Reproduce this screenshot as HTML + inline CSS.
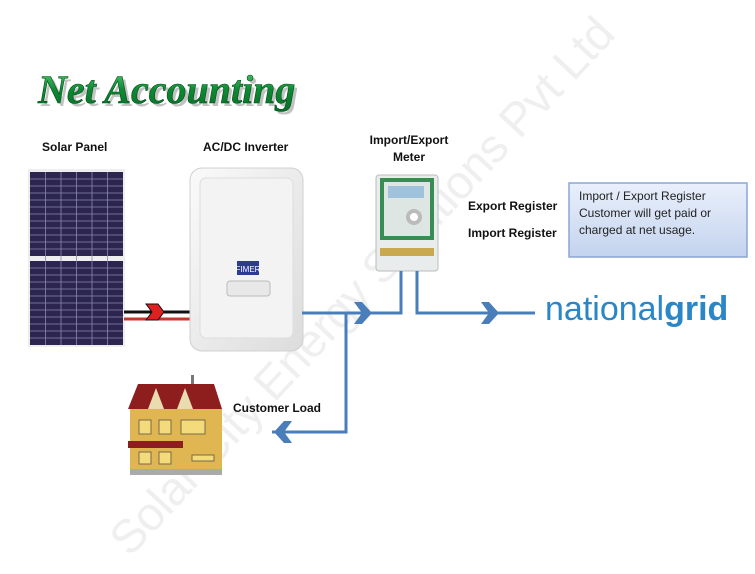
<!DOCTYPE html>
<html><head><meta charset="utf-8"><style>
html,body{margin:0;padding:0;background:#fff;}
body{width:755px;height:574px;overflow:hidden;position:relative;font-family:"Liberation Sans",sans-serif;}
</style></head><body>
<svg width="755" height="574" viewBox="0 0 755 574" xmlns="http://www.w3.org/2000/svg" style="position:absolute;left:0;top:0">
<defs>
<linearGradient id="box" x1="0" y1="0" x2="0" y2="1"><stop offset="0" stop-color="#eaf0fb"/><stop offset="1" stop-color="#c3d3ee"/></linearGradient>
<linearGradient id="inv" x1="0" y1="0" x2="1" y2="1"><stop offset="0" stop-color="#fafafa"/><stop offset="1" stop-color="#dcdcdc"/></linearGradient>
<linearGradient id="title" x1="0" y1="0" x2="0" y2="1"><stop offset="0" stop-color="#5fd47a"/><stop offset="0.5" stop-color="#0c8a33"/><stop offset="1" stop-color="#0a6d28"/></linearGradient>
</defs>
<!-- watermark -->
<text x="0" y="0" transform="translate(130,558) rotate(-47)" font-family="Liberation Sans,sans-serif" font-size="47" fill="#efefef" letter-spacing="-0.5">Solar City Energy Solutions Pvt Ltd</text>

<!-- title -->
<text x="38" y="103" font-family="Liberation Serif,serif" font-weight="bold" font-style="italic" font-size="40" fill="#9a9a9a" opacity="0.6" transform="translate(3,3)">Net Accounting</text>
<text x="38" y="103" font-family="Liberation Serif,serif" font-weight="bold" font-style="italic" font-size="40" fill="url(#title)" stroke="#064d1c" stroke-width="0.6">Net Accounting</text>

<!-- labels -->
<g font-family="Liberation Sans,sans-serif" font-weight="bold" font-size="12" fill="#111">
<text x="42" y="151">Solar Panel</text>
<text x="203" y="151">AC/DC Inverter</text>
<text x="409" y="144" text-anchor="middle">Import/Export</text>
<text x="409" y="161" text-anchor="middle">Meter</text>
<text x="468" y="210">Export Register</text>
<text x="468" y="237">Import Register</text>
<text x="233" y="412">Customer Load</text>
</g>

<!-- solar panel -->
<rect x="28" y="169" width="97" height="178" fill="#eee"/>
<rect x="30" y="172" width="93" height="84" fill="#2b2550"/>
<rect x="30" y="261" width="93" height="84" fill="#2b2550"/>
<g stroke="#8d88b0" stroke-width="0.8">
<line x1="45.5" y1="172" x2="45.5" y2="345"/><line x1="61" y1="172" x2="61" y2="345"/><line x1="76.5" y1="172" x2="76.5" y2="345"/><line x1="92" y1="172" x2="92" y2="345"/><line x1="107.5" y1="172" x2="107.5" y2="345"/>
<line x1="30" y1="179" x2="123" y2="179"/><line x1="30" y1="186" x2="123" y2="186"/><line x1="30" y1="193" x2="123" y2="193"/><line x1="30" y1="200" x2="123" y2="200"/><line x1="30" y1="207" x2="123" y2="207"/><line x1="30" y1="214" x2="123" y2="214"/><line x1="30" y1="221" x2="123" y2="221"/><line x1="30" y1="228" x2="123" y2="228"/><line x1="30" y1="235" x2="123" y2="235"/><line x1="30" y1="242" x2="123" y2="242"/><line x1="30" y1="249" x2="123" y2="249"/>
<line x1="30" y1="268" x2="123" y2="268"/><line x1="30" y1="275" x2="123" y2="275"/><line x1="30" y1="282" x2="123" y2="282"/><line x1="30" y1="289" x2="123" y2="289"/><line x1="30" y1="296" x2="123" y2="296"/><line x1="30" y1="303" x2="123" y2="303"/><line x1="30" y1="310" x2="123" y2="310"/><line x1="30" y1="317" x2="123" y2="317"/><line x1="30" y1="324" x2="123" y2="324"/><line x1="30" y1="331" x2="123" y2="331"/><line x1="30" y1="338" x2="123" y2="338"/>
</g>

<!-- cables -->
<line x1="124" y1="312" x2="192" y2="312" stroke="#111" stroke-width="3"/>
<line x1="124" y1="319" x2="192" y2="319" stroke="#c0392b" stroke-width="3"/>
<path d="M146,304 L158,304 L164,312 L158,320 L146,320 L152,312 Z" fill="#e02020" stroke="#111" stroke-width="1"/>

<!-- inverter -->
<rect x="190" y="168" width="113" height="183" rx="12" fill="url(#inv)" stroke="#d0d0d0"/>
<rect x="200" y="178" width="93" height="160" rx="6" fill="#f3f3f3" stroke="#ddd"/>
<rect x="237" y="261" width="22" height="14" fill="#2c3c8f"/>
<text x="248" y="272" font-size="8" fill="#fff" text-anchor="middle" font-family="Liberation Sans,sans-serif">FIMER</text>
<rect x="227" y="281" width="43" height="15" rx="3" fill="#e8e8e8" stroke="#bbb"/>

<!-- meter -->
<rect x="376" y="175" width="62" height="96" rx="3" fill="#e9ecec" stroke="#bbb"/>
<rect x="380" y="178" width="54" height="62" fill="#3a8d52"/>
<rect x="384" y="182" width="46" height="54" fill="#dde6e2"/>
<rect x="388" y="186" width="36" height="12" fill="#9fc3dc"/>
<circle cx="414" cy="217" r="8" fill="#bbb"/><circle cx="414" cy="217" r="4" fill="#fff"/>
<rect x="380" y="248" width="54" height="8" fill="#c9a850"/>

<!-- blue lines -->
<g fill="none" stroke="#4a7ebb" stroke-width="3">
<polyline points="302,313 401,313 401,271"/>
<polyline points="417,271 417,313 535,313"/>
<polyline points="346,313 346,432 272,432"/>
</g>
<g fill="#4a7ebb">
<path d="M354,302 L362,302 L372,313 L362,324 L354,324 L362,313 Z"/>
<path d="M481,302 L489,302 L499,313 L489,324 L481,324 L489,313 Z"/>
<path d="M292,421 L284,421 L274,432 L284,443 L292,443 L284,432 Z"/>
</g>

<!-- info box -->
<rect x="569" y="183" width="178" height="74" fill="url(#box)" stroke="#8aa5d4" stroke-width="1.5"/>
<g font-family="Liberation Sans,sans-serif" font-size="12" fill="#222">
<text x="579" y="200">Import / Export Register</text>
<text x="579" y="217">Customer will get paid or</text>
<text x="579" y="234">charged at net usage.</text>
</g>

<!-- national grid -->
<text x="545" y="320" font-family="Liberation Sans,sans-serif" font-size="34" fill="#2a86c6">national<tspan font-weight="bold">grid</tspan></text>

<!-- house -->
<rect x="191" y="375" width="3" height="10" fill="#777"/>
<polygon points="128,409 138,384 214,384 222,409" fill="#8e1e1e"/>
<polygon points="148,409 156,388 164,409" fill="#e9dcae"/>
<polygon points="177,409 185,388 193,409" fill="#e9dcae"/>
<rect x="130" y="409" width="92" height="60" fill="#e0b652"/>
<rect x="139" y="420" width="12" height="14" fill="#f3da7a" stroke="#7a6a4a"/>
<rect x="159" y="420" width="12" height="14" fill="#f3da7a" stroke="#7a6a4a"/>
<rect x="181" y="420" width="24" height="14" fill="#f3da7a" stroke="#7a6a4a"/>
<rect x="128" y="441" width="55" height="7" fill="#8e1e1e"/>
<rect x="139" y="452" width="12" height="12" fill="#f3da7a" stroke="#7a6a4a"/>
<rect x="159" y="452" width="12" height="12" fill="#f3da7a" stroke="#7a6a4a"/>
<rect x="192" y="455" width="22" height="6" fill="#f3da7a" stroke="#7a6a4a"/>
<rect x="130" y="469" width="92" height="6" fill="#aaa"/>
</svg>
</body></html>
